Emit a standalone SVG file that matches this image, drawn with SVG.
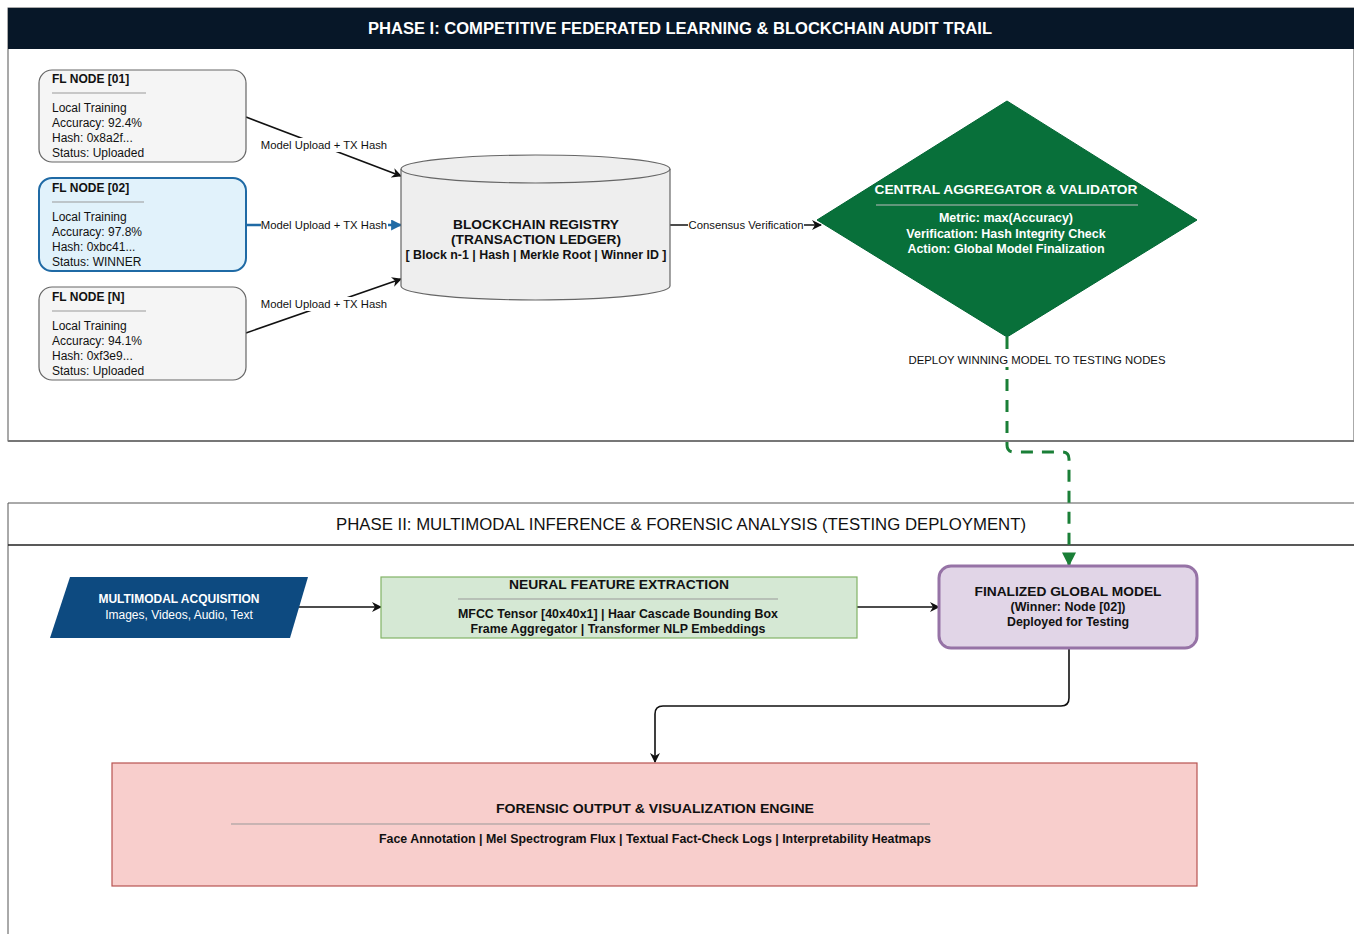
<svg xmlns="http://www.w3.org/2000/svg" width="1354" height="934" viewBox="0 0 1354 934">
<defs>
<style>
text{font-family:"Liberation Sans",Arial,sans-serif;fill:#111}
.b{font-weight:bold}
.s12{font-size:12px}
.s11{font-size:11.3px}
.c{text-anchor:middle}
.fl{fill:#f5f5f5;stroke:#666;stroke-width:1.2}
.sep{stroke:#999;stroke-width:1}
.e{fill:none;stroke:#111;stroke-width:1.6}
.w{fill:#fff}
</style>
<marker id="ah" viewBox="0 0 10 10" refX="9" refY="5" markerWidth="10" markerHeight="10" markerUnits="userSpaceOnUse" orient="auto"><path d="M0,0 L10,5 L0,10 L3,5 Z" fill="#111"/></marker>
<marker id="ahb" viewBox="0 0 10 10" refX="9" refY="5" markerWidth="11" markerHeight="11" markerUnits="userSpaceOnUse" orient="auto"><path d="M0,0 L10,5 L0,10 Z" fill="#1f6aa5"/></marker>
<marker id="ahg" viewBox="0 0 10 10" refX="9" refY="5" markerWidth="14" markerHeight="14" markerUnits="userSpaceOnUse" orient="auto"><path d="M0,0 L10,5 L0,10 Z" fill="#1a7f37"/></marker>
</defs>
<rect width="1354" height="934" fill="#fff"/>

<g id="phase1">
<rect x="8" y="8" width="1346" height="433" fill="#fff" stroke="#555" stroke-width="1"/>
<line x1="8" y1="441" x2="1354" y2="441" stroke="#777" stroke-width="2"/>
<rect x="8" y="8" width="1346" height="41" fill="#071728"/>
<text x="680" y="34" class="b c w" font-size="16" textLength="624" lengthAdjust="spacingAndGlyphs">PHASE I: COMPETITIVE FEDERATED LEARNING &amp; BLOCKCHAIN AUDIT TRAIL</text>
</g>

<g id="phase2">
<path d="M8,934 L8,503 L1354,503" fill="none" stroke="#555" stroke-width="1"/>
<line x1="8" y1="545" x2="1354" y2="545" stroke="#222" stroke-width="1.5"/>
<text x="681" y="530" class="c" font-size="16" textLength="690" lengthAdjust="spacingAndGlyphs">PHASE II: MULTIMODAL INFERENCE &amp; FORENSIC ANALYSIS (TESTING DEPLOYMENT)</text>
</g>

<g id="connectors">
<line x1="246" y1="117" x2="401" y2="176" class="e" marker-end="url(#ah)"/>
<line x1="246" y1="225" x2="401" y2="225" stroke="#1f6aa5" stroke-width="2.5" marker-end="url(#ahb)"/>
<line x1="246" y1="333" x2="401" y2="279" class="e" marker-end="url(#ah)"/>
<line x1="670" y1="225" x2="821" y2="225" class="e" stroke-width="1.2" marker-end="url(#ah)"/>
<path d="M1007,337 L1007,445 Q1007,452 1014,452 L1062,452 Q1069,452 1069,459 L1069,565" fill="none" stroke="#1a7f37" stroke-width="3" stroke-dasharray="12,9" marker-end="url(#ahg)"/>
<line x1="299" y1="607" x2="381" y2="607" class="e" marker-end="url(#ah)"/>
<line x1="857" y1="607" x2="939" y2="607" class="e" marker-end="url(#ah)"/>
<path d="M1069,648 L1069,698 Q1069,706 1061,706 L663,706 Q655,706 655,714 L655,762" class="e" marker-end="url(#ah)"/>
<g class="s11">
<rect x="259" y="138" width="130" height="14" fill="#fff"/>
<text x="324" y="149" class="c">Model Upload + TX Hash</text>
<rect x="261" y="218" width="127" height="14" fill="#fff"/>
<text x="324" y="229" class="c">Model Upload + TX Hash</text>
<rect x="259" y="297" width="130" height="14" fill="#fff"/>
<text x="324" y="308" class="c">Model Upload + TX Hash</text>
<rect x="688" y="218" width="116" height="14" fill="#fff"/>
<text x="746" y="229" class="c">Consensus Verification</text>
<rect x="908" y="352" width="258" height="15" fill="#fff"/>
<text x="1037" y="364" class="c" textLength="257" lengthAdjust="spacingAndGlyphs">DEPLOY WINNING MODEL TO TESTING NODES</text>
</g>
</g>

<g id="fl01">
<rect x="39" y="70" width="207" height="92" rx="13" class="fl"/>
<text x="52" y="83" class="b s12">FL NODE [01]</text>
<line x1="52" y1="93" x2="146" y2="93" class="sep"/>
<text x="52" y="112" class="s12">Local Training</text>
<text x="52" y="127" class="s12">Accuracy: 92.4%</text>
<text x="52" y="142" class="s12">Hash: 0x8a2f...</text>
<text x="52" y="157" class="s12">Status: Uploaded</text>
</g>
<g id="fl02">
<rect x="39" y="178" width="207" height="93" rx="13" fill="#e1f2fb" stroke="#1f6aa5" stroke-width="2"/>
<text x="52" y="192" class="b s12">FL NODE [02]</text>
<line x1="52" y1="202" x2="144" y2="202" class="sep"/>
<text x="52" y="221" class="s12">Local Training</text>
<text x="52" y="236" class="s12">Accuracy: 97.8%</text>
<text x="52" y="251" class="s12">Hash: 0xbc41...</text>
<text x="52" y="266" class="s12">Status: WINNER</text>
</g>
<g id="flN">
<rect x="39" y="287" width="207" height="93" rx="13" class="fl"/>
<text x="52" y="301" class="b s12">FL NODE [N]</text>
<line x1="52" y1="311" x2="146" y2="311" class="sep"/>
<text x="52" y="330" class="s12">Local Training</text>
<text x="52" y="345" class="s12">Accuracy: 94.1%</text>
<text x="52" y="360" class="s12">Hash: 0xf3e9...</text>
<text x="52" y="375" class="s12">Status: Uploaded</text>
</g>

<g id="blockchain">
<path d="M401,169 L401,286 A134.5,14 0 0 0 670,286 L670,169 A134.5,14 0 0 0 401,169 Z" fill="#eeeeee" stroke="#666" stroke-width="1.2"/>
<path d="M401,169 A134.5,14 0 0 0 670,169" fill="none" stroke="#666" stroke-width="1.2"/>
<text x="536" y="229" class="b c" font-size="13" textLength="166" lengthAdjust="spacingAndGlyphs">BLOCKCHAIN REGISTRY</text>
<text x="536" y="244" class="b c" font-size="13" textLength="170" lengthAdjust="spacingAndGlyphs">(TRANSACTION LEDGER)</text>
<text x="536" y="259" class="b c s12" textLength="261" lengthAdjust="spacingAndGlyphs">[ Block n-1 | Hash | Merkle Root | Winner ID ]</text>
</g>

<g id="aggregator">
<polygon points="817,220 1007,101 1197,220 1007,337" fill="#08703a" stroke="#063" stroke-width="1"/>
<text x="1006" y="194" class="b c w" font-size="13" textLength="263" lengthAdjust="spacingAndGlyphs">CENTRAL AGGREGATOR &amp; VALIDATOR</text>
<line x1="876" y1="205" x2="1138" y2="205" stroke="#bbb" stroke-width="1.2"/>
<text x="1006" y="222" class="b c w" font-size="12.5">Metric: max(Accuracy)</text>
<text x="1006" y="238" class="b c w" font-size="12.5">Verification: Hash Integrity Check</text>
<text x="1006" y="253" class="b c w" font-size="12.5">Action: Global Model Finalization</text>
</g>

<g id="acquisition">
<polygon points="70,577 308,577 290,638 50,638" fill="#0d4a80"/>
<text x="179" y="603" class="b c w s12">MULTIMODAL ACQUISITION</text>
<text x="179" y="619" class="c w s12">Images, Videos, Audio, Text</text>
</g>

<g id="extraction">
<rect x="381" y="577" width="476" height="61" fill="#d5e8d4" stroke="#82b366" stroke-width="1.2"/>
<text x="619" y="589" class="b c" font-size="13" textLength="220" lengthAdjust="spacingAndGlyphs">NEURAL FEATURE EXTRACTION</text>
<line x1="458" y1="599" x2="778" y2="599" class="sep"/>
<text x="618" y="618" class="b c s12" textLength="320" lengthAdjust="spacingAndGlyphs">MFCC Tensor [40x40x1] | Haar Cascade Bounding Box</text>
<text x="618" y="633" class="b c s12" textLength="295" lengthAdjust="spacingAndGlyphs">Frame Aggregator | Transformer NLP Embeddings</text>
</g>

<g id="global">
<rect x="939" y="566" width="258" height="82" rx="12" fill="#e1d5e7" stroke="#9673a6" stroke-width="3"/>
<text x="1068" y="596" class="b c" font-size="13" textLength="187" lengthAdjust="spacingAndGlyphs">FINALIZED GLOBAL MODEL</text>
<text x="1068" y="611" class="b c s12" textLength="115" lengthAdjust="spacingAndGlyphs">(Winner: Node [02])</text>
<text x="1068" y="626" class="b c s12" textLength="122" lengthAdjust="spacingAndGlyphs">Deployed for Testing</text>
</g>

<g id="forensic">
<rect x="112" y="763" width="1085" height="123" fill="#f8cecc" stroke="#b85450" stroke-width="1.2"/>
<text x="655" y="813" class="b c" font-size="13" textLength="318" lengthAdjust="spacingAndGlyphs">FORENSIC OUTPUT &amp; VISUALIZATION ENGINE</text>
<line x1="231" y1="824" x2="930" y2="824" class="sep"/>
<text x="655" y="843" class="b c s12" textLength="552" lengthAdjust="spacingAndGlyphs">Face Annotation | Mel Spectrogram Flux | Textual Fact-Check Logs | Interpretability Heatmaps</text>
</g>
</svg>
